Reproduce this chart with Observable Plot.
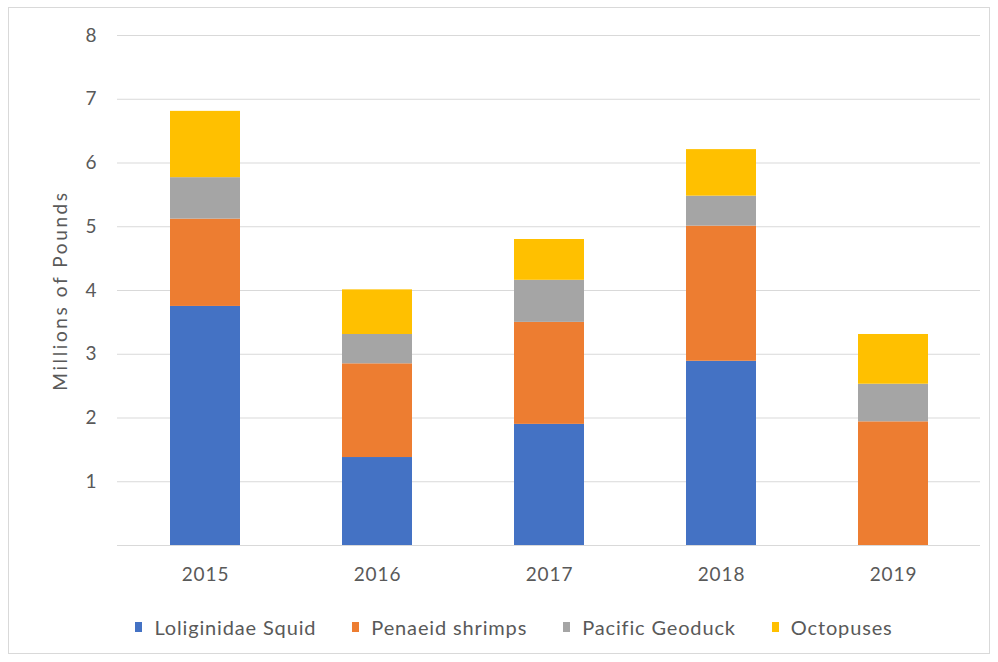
<!DOCTYPE html>
<html>
<head>
<meta charset="utf-8">
<script src="https://cdn.jsdelivr.net/npm/d3@7"></script>
<script src="https://cdn.jsdelivr.net/npm/@observablehq/plot@0.6"></script>
<style>
  html, body { margin: 0; padding: 0; background: #fff; }
  #wrap { position: relative; width: 998px; height: 662px; font-family: Lato, "Open Sans", sans-serif; color: #595959; }
  #frame { position: absolute; left: 8px; top: 7px; width: 982px; height: 647px; border: 1px solid #d9d9d9; box-sizing: border-box; pointer-events: none; }
  #chart { position: absolute; left: 0; top: 0; }
  #legend { position: absolute; left: 0; top: 615px; width: 998px; display: flex; justify-content: center; gap: 36px; font-size: 20px; letter-spacing: 0.85px; padding-left: 30px; box-sizing: border-box; }
  .item { display: flex; align-items: center; gap: 12px; }
  .sw { width: 7px; height: 10px; display: inline-block; }
</style>
</head>
<body>
<div id="wrap">
  <div id="chart"></div>
  <div id="legend"></div>
  <div id="frame"></div>
</div>
<script>
// Annual landings by species, millions of pounds
const years = ["2015", "2016", "2017", "2018", "2019"];
const species = ["Loliginidae Squid", "Penaeid shrimps", "Pacific Geoduck", "Octopuses"];
const colors = ["#4472C4", "#ED7D31", "#A5A5A5", "#FFC000"];
const squid = [3.75, 1.38, 1.90, 2.89, 0];
const shrimp = [1.37, 1.47, 1.60, 2.12, 1.94];
const geoduck = [0.65, 0.46, 0.66, 0.47, 0.59];
const octopus = [1.04, 0.70, 0.64, 0.73, 0.78];
const yTicks = [1, 2, 3, 4, 5, 6, 7, 8];

const series = [squid, shrimp, geoduck, octopus];
const rows = [];
species.forEach((s, i) => {
  years.forEach((y, j) => rows.push({year: y, species: s, value: series[i][j]}));
});

const plot = Plot.plot({
  width: 998,
  height: 600,
  marginTop: 35,
  marginBottom: 55,
  marginLeft: 117,
  marginRight: 18,
  style: {fontFamily: "Lato, 'Open Sans', sans-serif", fontSize: "19px", color: "#595959", background: "transparent"},
  x: {domain: years, paddingInner: 0.594, paddingOuter: 0.297, label: null},
  y: {domain: [0, 8], label: null},
  color: {domain: species, range: colors},
  marks: [
    Plot.ruleY([0, ...yTicks], {stroke: "#d9d9d9", strokeWidth: 1}),
    Plot.barY(rows, {x: "year", y: "value", fill: "species"}),
    Plot.axisX({tickSize: 0, tickPadding: 22, label: null, fill: "#595959"}),
    Plot.axisY({ticks: yTicks, tickSize: 0, tickPadding: 21, label: "Millions of Pounds",
      labelAnchor: "center", labelArrow: "none", labelOffset: 64, fill: "#595959"})
  ]
});

// Slightly wider letter spacing for axis text
d3.select(plot).selectAll("[aria-label='x-axis tick label'] text").style("letter-spacing", "0.9px");
d3.select(plot).selectAll("[aria-label='y-axis label'] text").style("letter-spacing", "2.6px");

document.getElementById("chart").appendChild(plot);

const legend = document.getElementById("legend");
species.forEach((s, i) => {
  const item = document.createElement("div");
  item.className = "item";
  const sw = document.createElement("span");
  sw.className = "sw";
  sw.style.background = colors[i];
  const label = document.createElement("span");
  label.textContent = s;
  item.appendChild(sw);
  item.appendChild(label);
  legend.appendChild(item);
});
</script>
</body>
</html>
